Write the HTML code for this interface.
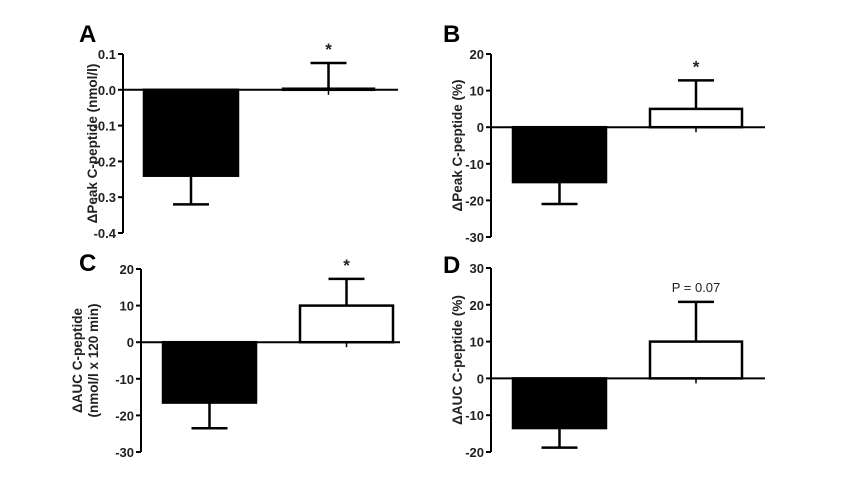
<!DOCTYPE html>
<html><head><meta charset="utf-8"><style>
html,body{margin:0;padding:0;background:#fff;}
svg{display:block;font-family:"Liberation Sans",Arial,sans-serif;}
</style></head><body>
<svg id="chart" width="865" height="480" viewBox="0 0 865 480" xmlns="http://www.w3.org/2000/svg"></svg>
<script>
// Data arrays
const panelIds = ['A','B','C','D'];
const groups = ['control','treatment'];
const meansA = [-0.24, 0.003];
const errA = [0.08, 0.072];
const ticksA = [0.1, 0.0, -0.1, -0.2, -0.3, -0.4];
const tickLabelsA = ['0.1','0.0','-0.1','-0.2','-0.3','-0.4'];
const meansB = [-15, 5];
const errB = [6, 7.8];
const ticksB = [20, 10, 0, -10, -20, -30];
const tickLabelsB = ['20','10','0','-10','-20','-30'];
const meansC = [-16.5, 10];
const errC = [7, 7.3];
const ticksC = [20, 10, 0, -10, -20, -30];
const tickLabelsC = ['20','10','0','-10','-20','-30'];
const meansD = [-13.5, 10];
const errD = [5.3, 10.8];
const ticksD = [30, 20, 10, 0, -10, -20];
const tickLabelsD = ['30','20','10','0','-10','-20'];
const annotations = ['*','*','*','P = 0.07'];
const yTitles = [['ΔPeak C-peptide (nmol/l)'],['ΔPeak C-peptide (%)'],['ΔAUC C-peptide','(nmol/l x 120 min)'],['ΔAUC C-peptide (%)']];

const svg = document.getElementById('chart');
const NS = 'http://www.w3.org/2000/svg';
function mk(tag, attrs, parent){
  const e = document.createElementNS(NS, tag);
  for (const k in attrs) e.setAttribute(k, attrs[k]);
  parent.appendChild(e);
  return e;
}
// layout (pixel geometry only)
const layouts = [
  {ax:123, yTop:54, yBot:233, vTop:0.1, vBot:-0.4, barX:[144,283], barW:[94,91], axEnd:398, letterX:79, letterY:42, titleX:[97]},
  {ax:491, yTop:54, yBot:237, vTop:20, vBot:-30, barX:[513,650], barW:[93,92], axEnd:765, letterX:443, letterY:42, titleX:[462]},
  {ax:141, yTop:269, yBot:452, vTop:20, vBot:-30, barX:[163,300], barW:[93,93], axEnd:400, letterX:79, letterY:271, titleX:[82,98]},
  {ax:491, yTop:268, yBot:452, vTop:30, vBot:-20, barX:[513,650], barW:[93,92], axEnd:765, letterX:443, letterY:273, titleX:[462]}
];
const meansAll = [meansA, meansB, meansC, meansD];
const errAll = [errA, errB, errC, errD];
const ticksAll = [ticksA, ticksB, ticksC, ticksD];
const tickLabelsAll = [tickLabelsA, tickLabelsB, tickLabelsC, tickLabelsD];

panelIds.forEach((pid, i) => {
  const L = layouts[i];
  const g = mk('g', {}, svg);
  
  
  const y = v => L.yTop + (L.vTop - v) / (L.vTop - L.vBot) * (L.yBot - L.yTop);
  const y0 = y(0);
  const cy = (L.yTop + L.yBot) / 2;

  const letter = mk('text', {x:L.letterX, y:L.letterY, 'font-size':24, 'font-weight':'bold', fill:'#000'}, g);
  letter.textContent = pid;
  
  

  yTitles[i].forEach((t, j) => {
    const tx = L.titleX[j];
    const te = mk('text', {x:tx, y:cy, transform:`rotate(-90 ${tx} ${cy})`, 'text-anchor':'middle', 'font-size':13.5, 'font-weight':'bold', fill:'#222'}, g);
    te.textContent = t;
    
    
  });

  const axis = mk('line', {x1:L.ax, x2:L.ax, y1:L.yTop, y2:L.yBot, stroke:'#000', 'stroke-width':2}, g);
  
  

  ticksAll[i].forEach((tv, k) => {
    const ty = y(tv);
    const tk = mk('line', {x1:L.ax - 5, x2:L.ax, y1:ty, y2:ty, stroke:'#000', 'stroke-width':2}, g);
    
    
    const tl = mk('text', {x:L.ax - 7, y:ty + 5, 'text-anchor':'end', 'font-size':13, 'font-weight':'bold', fill:'#222'}, g);
    tl.textContent = tickLabelsAll[i][k];
    
    
  });

  groups.forEach((grp, b) => {
    const m = meansAll[i][b], e = errAll[i][b];
    const bx = L.barX[b], bw = L.barW[b];
    const cx = bx + bw / 2;
    const ym = y(m);
    const eEnd = y(m + (m < 0 ? -e : e));
    const err = mk('line', {x1:cx, x2:cx, y1:ym, y2:eEnd, stroke:'#000', 'stroke-width':2.5}, g);
    
    
    const cap = mk('line', {x1:cx - 18, x2:cx + 18, y1:eEnd, y2:eEnd, stroke:'#000', 'stroke-width':2.5}, g);
    
    
    const top = Math.min(ym, y0), h = Math.max(Math.abs(ym - y0), 0.5);
    const bar = mk('rect', {x:bx, y:top, width:bw, height:h, fill: b === 0 ? '#000' : '#fff', stroke:'#000', 'stroke-width':2.5}, g);
    
    
    if (b === 1) {
      const tick = mk('line', {x1:cx, x2:cx, y1:y0, y2:y0 + 5, stroke:'#000', 'stroke-width':1.5}, g);
      
      
      const isStar = annotations[i] === '*';
      const an = mk('text', {x:cx, y: isStar ? eEnd - 8 : eEnd - 10, 'text-anchor':'middle', 'font-size': isStar ? 17 : 13, 'font-weight': isStar ? 'bold' : 'normal', fill:'#222'}, g);
      an.textContent = annotations[i];
      
      
    }
  });

  const zl = mk('line', {x1:L.ax, x2:L.axEnd, y1:y0, y2:y0, stroke:'#000', 'stroke-width':2}, g);
  
  
});
</script>
</body></html>
